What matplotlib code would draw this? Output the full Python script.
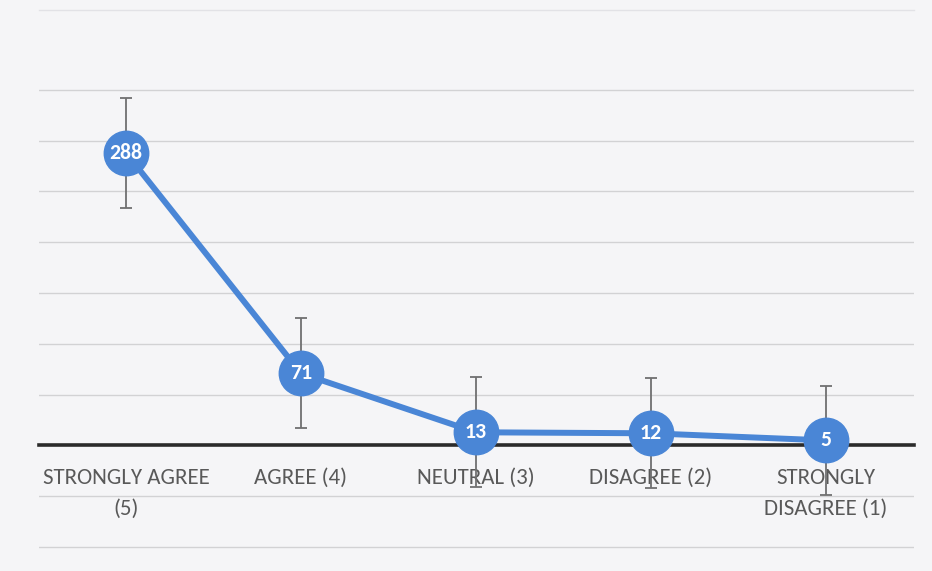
import matplotlib
matplotlib.use("Agg")
import matplotlib.pyplot as plt
from matplotlib import font_manager

categories = ["STRONGLY AGREE\n(5)", "AGREE (4)", "NEUTRAL (3)", "DISAGREE (2)", "STRONGLY\nDISAGREE (1)"]
values = [288, 71, 13, 12, 5]
errors = [54, 54, 54, 54, 54]
grid_ticks = [-100, -50, 50, 100, 150, 200, 250, 300, 350]

available = {f.name for f in font_manager.fontManager.ttflist}
font = "DejaVu Sans"
label_size = 13.5
for cand, size in [("Carlito", 16.5), ("Lato", 15), ("Liberation Sans Narrow", 15),
                   ("Open Sans", 13.3), ("Noto Sans", 13.3)]:
    if cand in available:
        font, label_size = cand, size
        break

W, H = 932, 571
fig = plt.figure(figsize=(W / 100, H / 100), dpi=100)
bg = "#f5f5f7"
fig.patch.set_facecolor(bg)
ax = fig.add_axes([38.5 / W, (H - 560) / H, 875 / W, 550 / H])
ax.set_facecolor(bg)

x = list(range(len(values)))
blue = "#4a86d6"

ax.errorbar(x, values, yerr=errors, fmt="none", ecolor="#707070",
            elinewidth=1.3, capsize=4, capthick=1.3, zorder=3)
ax.plot(x, values, color=blue, lw=4.3, marker="o", markersize=32,
        markerfacecolor=blue, markeredgecolor=blue, zorder=4,
        solid_capstyle="round")
for xi, v in zip(x, values):
    ax.text(xi, v, str(v), ha="center", va="center", color="white",
            fontsize=label_size * 0.95, fontweight="bold", family=font,
            zorder=5)

ax.set_xlim(-0.5, len(values) - 0.5)
ax.set_ylim(-112.7, 428.6)
ax.set_yticks(grid_ticks)
ax.yaxis.grid(True, color="#d2d2d4", lw=1.0)
ax.tick_params(axis="y", length=0, labelleft=False)
ax.set_axisbelow(True)

for s in ["left", "right"]:
    ax.spines[s].set_visible(False)
ax.spines["top"].set_color("#e2e2e6")
ax.spines["top"].set_linewidth(1.0)
ax.spines["bottom"].set_position(("data", 0))
ax.spines["bottom"].set_color("#2b2b2b")
ax.spines["bottom"].set_linewidth(2.6)
ax.spines["bottom"].set_zorder(3.5)

ax.set_xticks(x)
ax.set_xticklabels(categories, fontsize=label_size, family=font,
                   color="#595959", linespacing=1.7)
ax.tick_params(axis="x", length=0, pad=16)

fig.savefig("out.png", dpi=100, facecolor=bg)
